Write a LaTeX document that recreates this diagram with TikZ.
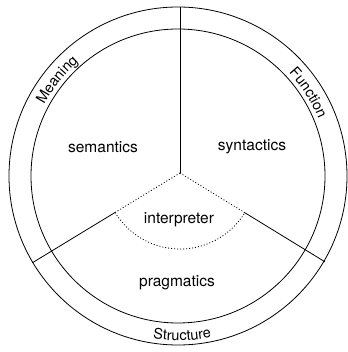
\documentclass[tikz,border=0pt]{standalone}
\usepackage{fontspec}
\setmainfont{TeX Gyre Heros}
\usetikzlibrary{decorations.text,calc}
\begin{document}
\begin{tikzpicture}[x=1pt,y=1pt, line width=0.8pt,
  region/.style={font=\fontsize{15.5}{18}\selectfont, inner sep=0pt},
  dotline/.style={line width=0.8pt, dash pattern=on 1pt off 2pt},
  ringlabel/.style={decorate, decoration={text along path, text align=center,
     text={|\fontsize{14.5}{16}\selectfont|#1}}}]
\useasboundingbox (-178,-176) rectangle (169,176);
\coordinate (C) at (0,0);
\coordinate (hub) at (2,3);
\draw (C) circle[radius=169];
\draw (C) circle[radius=147];
\coordinate (T) at (2,169);
\coordinate (L) at ($(hub)+(211.3:173)$);
\coordinate (R) at ($(hub)+(328.5:170)$);
\coordinate (a) at ($(hub)+(211.3:76)$);
\coordinate (b) at ($(hub)+(328.5:76)$);
\draw (hub) -- (T);
\draw[dotline] (hub) -- (a);
\draw[dotline] (hub) -- (b);
\draw (a) -- (L);
\draw (b) -- (R);
\draw[dotline] (a) arc[start angle=211.3, end angle=328.5, radius=76];
\node[region] (sem) at (-75,29) {semantics};
\node[region] (syn) at (74,29) {syntactics};
\node[region] (int) at (1,-44) {interpreter};
\node[region] (pra) at (-1,-107) {pragmatics};
\path[ringlabel=Meaning] (C) ++(175:151.5) arc[start angle=175, end angle=108, radius=151.5];
\path[ringlabel=Function] (C) ++(67:151.5) arc[start angle=67, end angle=-2, radius=151.5];
\path[ringlabel=Structure] (C) ++(236:164.5) arc[start angle=236, end angle=307, radius=164.5];
\end{tikzpicture}
\end{document}
